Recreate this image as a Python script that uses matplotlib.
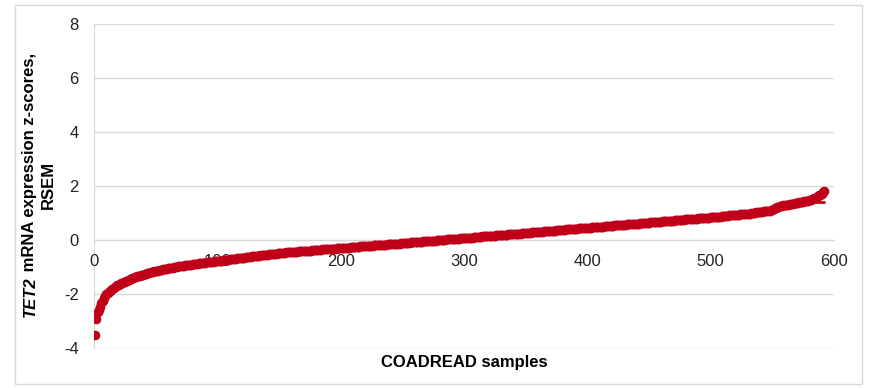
import numpy as np
import matplotlib.pyplot as plt
from matplotlib.patches import Rectangle

plt.rcParams['font.family'] = ['Liberation Sans', 'DejaVu Sans']
plt.rcParams['axes.unicode_minus'] = False

# TET2 z-scores, sorted ascending, one value per COADREAD sample
z_scores = [
    -3.52, -2.93, -2.68, -2.58, -2.48, -2.35, -2.25, -2.15, -2.08, -2.01,
    -1.96, -1.92, -1.88, -1.84, -1.80, -1.77, -1.74, -1.71, -1.68, -1.66,
    -1.63, -1.61, -1.59, -1.56, -1.54, -1.52, -1.50, -1.48, -1.46, -1.44,
    -1.42, -1.40, -1.38, -1.37, -1.35, -1.34, -1.32, -1.31, -1.29, -1.28,
    -1.26, -1.25, -1.24, -1.22, -1.21, -1.20, -1.19, -1.17, -1.16, -1.15,
    -1.14, -1.13, -1.12, -1.11, -1.10, -1.09, -1.08, -1.07, -1.06, -1.05,
    -1.04, -1.03, -1.02, -1.02, -1.01, -1.00, -0.99, -0.98, -0.98, -0.97,
    -0.96, -0.95, -0.95, -0.94, -0.93, -0.93, -0.92, -0.91, -0.91, -0.90,
    -0.89, -0.89, -0.88, -0.88, -0.87, -0.86, -0.86, -0.85, -0.85, -0.84,
    -0.83, -0.83, -0.82, -0.82, -0.81, -0.81, -0.80, -0.79, -0.79, -0.78,
    -0.77, -0.77, -0.76, -0.76, -0.75, -0.74, -0.74, -0.73, -0.73, -0.72,
    -0.71, -0.71, -0.70, -0.70, -0.69, -0.68, -0.68, -0.67, -0.67, -0.66,
    -0.65, -0.65, -0.64, -0.64, -0.63,
    -0.62, -0.62, -0.61, -0.61, -0.60, -0.60, -0.59, -0.58, -0.58, -0.57,
    -0.57, -0.56, -0.55, -0.55, -0.54, -0.54, -0.53, -0.53, -0.52, -0.51,
    -0.51, -0.50, -0.50, -0.49, -0.49,
    -0.48, -0.48, -0.48, -0.47, -0.47, -0.46, -0.46, -0.46, -0.45, -0.45,
    -0.44, -0.44, -0.44, -0.43, -0.43, -0.42, -0.42, -0.42, -0.41, -0.41,
    -0.40, -0.40, -0.40, -0.39, -0.39,
    -0.39, -0.38, -0.38, -0.38, -0.37, -0.37, -0.37, -0.36, -0.36, -0.35,
    -0.35, -0.35, -0.34, -0.34, -0.34, -0.33, -0.33, -0.33, -0.32, -0.32,
    -0.32, -0.31, -0.31, -0.31, -0.30,
    -0.30, -0.29, -0.29, -0.29, -0.28, -0.28, -0.28, -0.27, -0.27, -0.26,
    -0.26, -0.26, -0.25, -0.25, -0.25, -0.24, -0.24, -0.24, -0.23, -0.23,
    -0.22, -0.22, -0.22, -0.21, -0.21, -0.21, -0.20, -0.20, -0.20, -0.19,
    -0.19, -0.18, -0.18, -0.18, -0.17, -0.17, -0.17, -0.16, -0.16, -0.16,
    -0.15, -0.15, -0.14, -0.14, -0.14, -0.13, -0.13, -0.13, -0.12, -0.12,
    -0.11, -0.11, -0.11, -0.10, -0.10, -0.10, -0.09, -0.09, -0.08, -0.08,
    -0.08, -0.07, -0.07, -0.07, -0.06, -0.06, -0.05, -0.05, -0.05, -0.04,
    -0.04, -0.04, -0.03, -0.03, -0.02, -0.02, -0.02, -0.01, -0.01, -0.01,
    0.00, 0.00, 0.01, 0.01, 0.01, 0.02, 0.02, 0.02, 0.03, 0.03,
    0.04, 0.04, 0.04, 0.05, 0.05, 0.05, 0.06, 0.06, 0.06, 0.07,
    0.07, 0.08, 0.08, 0.08, 0.09, 0.09, 0.09, 0.10, 0.10, 0.11,
    0.11, 0.11, 0.12, 0.12, 0.13, 0.13, 0.13, 0.14, 0.14, 0.14,
    0.15, 0.15, 0.16, 0.16, 0.16, 0.17, 0.17, 0.17, 0.18, 0.18,
    0.19, 0.19, 0.19, 0.20, 0.20, 0.21, 0.21, 0.21, 0.22, 0.22,
    0.22, 0.23, 0.23, 0.24, 0.24, 0.24, 0.25, 0.25, 0.26, 0.26,
    0.26, 0.27, 0.27, 0.27, 0.28, 0.28, 0.29, 0.29, 0.29, 0.30,
    0.30, 0.31, 0.31, 0.31, 0.32, 0.32, 0.33, 0.33, 0.33, 0.34,
    0.34, 0.34, 0.35, 0.35, 0.36, 0.36, 0.36, 0.37, 0.37, 0.38,
    0.38, 0.38, 0.39, 0.39, 0.39, 0.40, 0.40, 0.41, 0.41, 0.41,
    0.42, 0.42, 0.43, 0.43, 0.43, 0.44, 0.44, 0.44, 0.45, 0.45,
    0.46, 0.46, 0.46, 0.47, 0.47, 0.48, 0.48, 0.48, 0.49, 0.49,
    0.49, 0.50, 0.50, 0.51, 0.51, 0.51, 0.52, 0.52, 0.53, 0.53,
    0.53, 0.54, 0.54, 0.54, 0.55, 0.55, 0.56, 0.56, 0.56, 0.57,
    0.57, 0.58, 0.58, 0.58, 0.59, 0.59, 0.59, 0.60, 0.60, 0.61,
    0.61, 0.61, 0.62, 0.62, 0.63, 0.63, 0.63, 0.64, 0.64, 0.64,
    0.65, 0.65, 0.66, 0.66, 0.66, 0.67, 0.67, 0.68, 0.68, 0.68,
    0.69, 0.69, 0.69, 0.70, 0.70, 0.71, 0.71, 0.71, 0.72, 0.72,
    0.73, 0.73, 0.73, 0.74, 0.74, 0.74, 0.75, 0.75, 0.76, 0.76,
    0.76, 0.77, 0.77, 0.78, 0.78, 0.78, 0.79, 0.79, 0.79, 0.80,
    0.80, 0.81, 0.81, 0.81, 0.82, 0.82, 0.83, 0.83, 0.83, 0.84,
    0.84, 0.85, 0.85, 0.86, 0.86, 0.86, 0.87, 0.87, 0.88, 0.88,
    0.89, 0.89, 0.90, 0.90, 0.91, 0.91, 0.91, 0.92, 0.92, 0.93,
    0.93, 0.94, 0.94, 0.95, 0.95, 0.95, 0.96, 0.96, 0.97, 0.97,
    0.98, 0.98, 0.99, 1.00, 1.00, 1.01, 1.02, 1.02, 1.03, 1.04,
    1.04, 1.05, 1.06, 1.06, 1.07, 1.08, 1.08, 1.09, 1.10, 1.11,
    1.14, 1.17, 1.20, 1.22, 1.24,
    1.25, 1.26, 1.27, 1.28, 1.29, 1.29, 1.30, 1.31, 1.32, 1.33,
    1.34, 1.35, 1.36, 1.37, 1.38, 1.38, 1.39, 1.40, 1.41, 1.42,
    1.43, 1.44, 1.45, 1.46, 1.48, 1.50, 1.51, 1.53, 1.55, 1.57,
    1.60, 1.63, 1.65, 1.68, 1.72, 1.76, 1.80,
]
samples = np.arange(1, len(z_scores) + 1)

# short red marker line near the top end
mark_level = 1.40
mark_from, mark_to = 569, 593

x_ticks = [0, 100, 200, 300, 400, 500, 600]
y_ticks = [-4, -2, 0, 2, 4, 6, 8]

red = '#C00018'
grid_grey = '#d9d9d9'

fig = plt.figure(figsize=(8.7, 3.88), dpi=100)
W, H = 870, 388
ax = fig.add_axes([94 / W, 1 - 348 / H, (834 - 94) / W, (348 - 24) / H])

ax.scatter(samples, z_scores, s=48, color=red, linewidths=0, zorder=2)
ax.hlines(mark_level, mark_from, mark_to, color=red, lw=2, zorder=2)

ax.set_xlim(0, 600)
ax.set_ylim(-4, 8)
ax.set_xticks(x_ticks)
ax.set_yticks(y_ticks)
ax.set_axisbelow(True)
ax.grid(axis='y', color=grid_grey, lw=1)

for side in ['top', 'right']:
    ax.spines[side].set_visible(False)
ax.spines['bottom'].set_position(('data', 0))
ax.spines['bottom'].set_color(grid_grey)
ax.spines['left'].set_color(grid_grey)
ax.spines['bottom'].set_zorder(0.5)
ax.spines['left'].set_zorder(0.5)

ax.tick_params(axis='x', length=0, pad=10, labelsize=12, labelcolor='#222222')
ax.tick_params(axis='y', length=0, pad=11, labelsize=12, labelcolor='#222222')

fig.text(464 / W, 1 - 363 / H, 'COADREAD samples', ha='center', va='center',
         fontsize=12, fontweight='bold')

# two-line y label, first word italic
fig.canvas.draw()
r = fig.canvas.get_renderer()
t1 = fig.text(30 / W, 0, 'TET2', rotation=90, fontsize=12, fontweight='bold',
              fontstyle='italic', ha='center', va='bottom')
t2 = fig.text(30 / W, 0, ' mRNA expression z-scores,', rotation=90, fontsize=12,
              fontweight='bold', ha='center', va='bottom')
h1 = t1.get_window_extent(r).height
h2 = t2.get_window_extent(r).height
yc = H - 185
start = yc - (h1 + h2) / 2
t1.set_y(start / H)
t2.set_y((start + h1) / H)
fig.text(48 / W, yc / H, 'RSEM', rotation=90, fontsize=12, fontweight='bold',
         ha='center', va='center')

# light frame round the whole chart
fig.patches.append(Rectangle((15 / W, 4 / H), (862 - 15) / W, (383 - 4) / H,
                             transform=fig.transFigure, fill=False,
                             edgecolor=grid_grey, lw=1))

fig.savefig('out.png', dpi=100)
